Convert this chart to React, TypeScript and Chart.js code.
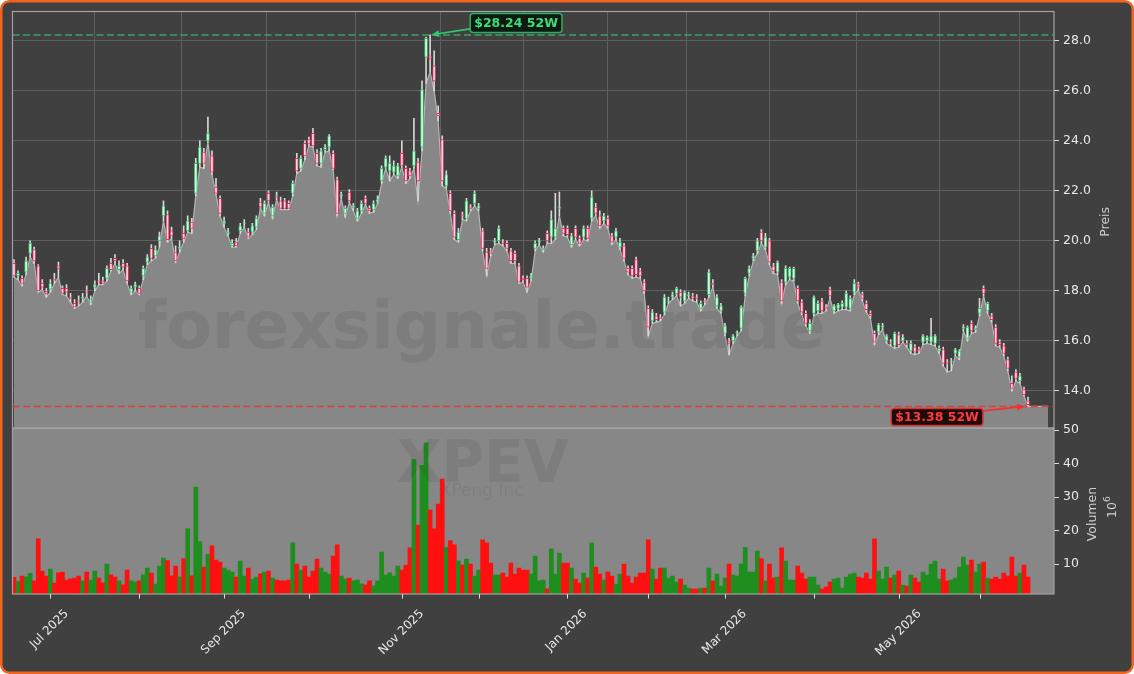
import React, { useEffect, useRef } from "react";
import { Chart, registerables } from "chart.js";

Chart.register(...registerables);

// ---- Data (daily sessions, index 0 = 17 Jun 2025) ----
const opens = [
  19.10, 18.60, 18.50, 18.75, 19.50, 19.65, 19.00, 18.30, 17.97, 18.07,
  18.45, 19.00, 18.10, 18.10, 17.75, 17.50, 17.60, 17.70, 18.00, 17.55,
  18.15, 18.40, 18.40, 18.50, 19.10, 19.30, 18.85, 19.10, 19.00, 17.95,
  18.15, 18.10, 18.60, 19.15, 19.70, 19.40, 20.00, 21.00, 21.05, 20.40,
  19.55, 19.70, 20.30, 20.40, 20.75, 21.90, 23.10, 23.55, 24.00, 23.40,
  22.15, 21.70, 20.70, 20.27, 19.80, 19.95, 20.40, 20.70, 20.35, 20.35,
  20.55, 21.55, 21.10, 21.90, 21.00, 21.80, 21.60, 21.60, 21.50, 21.90,
  23.30, 22.90, 23.90, 24.05, 24.30, 23.50, 23.10, 23.65, 23.75, 23.50,
  22.45, 21.80, 21.10, 21.95, 21.35, 20.90, 21.20, 21.70, 21.30, 21.25,
  21.55, 22.40, 22.95, 22.80, 22.75, 22.60, 23.50, 22.90, 22.80, 23.00,
  23.15, 23.75, 27.35, 27.40, 27.00, 25.10, 24.05, 22.20, 21.90, 21.10,
  20.05, 21.05, 20.90, 21.35, 21.50, 21.30, 20.40, 19.55, 19.60, 19.95,
  20.00, 19.95, 19.90, 19.60, 19.50, 19.00, 18.50, 18.50, 18.50, 19.70,
  19.95, 19.65, 20.30, 20.15, 20.15, 21.30, 20.50, 20.50, 19.85, 20.50,
  20.10, 20.15, 20.50, 20.90, 21.35, 21.00, 20.80, 20.90, 20.20, 20.15,
  19.75, 19.80, 18.90, 18.90, 19.25, 18.80, 18.35, 17.30, 16.80, 17.00,
  16.95, 17.15, 17.55, 17.75, 17.90, 17.95, 17.60, 17.80, 17.80, 17.75,
  17.30, 17.60, 17.85, 18.30, 17.40, 17.20, 16.30, 16.00, 16.00, 16.30,
  16.50, 17.90, 18.70, 19.30, 19.60, 20.35, 19.75, 20.00, 19.00, 18.75,
  18.35, 18.35, 18.55, 18.50, 18.10, 17.55, 17.10, 16.40, 17.10, 17.20,
  17.60, 17.35, 18.05, 17.20, 17.30, 17.35, 17.35, 17.30, 17.95, 18.25,
  17.85, 17.50, 17.10, 16.30, 16.35, 16.55, 16.00, 15.95, 15.80, 16.25,
  16.00, 15.90, 15.60, 15.75, 15.65, 15.95, 16.00, 15.95, 15.90, 15.60,
  15.65, 15.15, 15.15, 15.50, 15.35, 16.50, 16.10, 16.70, 16.45, 17.10,
  18.10, 17.20, 17.00, 16.55, 15.95, 15.80, 15.25, 14.30, 14.75, 14.40,
  14.05, 13.60,
];

const highs = [
  19.25, 18.80, 18.60, 19.35, 20.00, 19.75, 19.05, 18.45, 18.10, 18.45,
  18.70, 19.15, 18.20, 18.25, 17.90, 17.65, 17.80, 17.90, 18.20, 17.80,
  18.40, 18.70, 18.55, 19.00, 19.30, 19.45, 19.20, 19.25, 19.10, 18.20,
  18.35, 18.20, 19.00, 19.45, 19.85, 19.80, 20.35, 21.60, 21.20, 20.55,
  19.80, 20.00, 20.60, 21.00, 20.90, 23.30, 24.00, 23.70, 24.95, 23.60,
  22.50, 21.80, 20.95, 20.50, 20.05, 20.10, 20.70, 20.85, 20.50, 20.70,
  21.00, 21.70, 21.60, 22.00, 21.45, 21.95, 21.75, 21.70, 21.60, 22.40,
  23.50, 23.40, 24.00, 24.15, 24.50, 23.65, 23.70, 23.85, 24.25, 23.60,
  22.55, 21.95, 21.40, 22.05, 21.50, 21.30, 21.60, 21.80, 21.40, 21.60,
  21.80, 23.00, 23.40, 23.40, 23.20, 23.10, 24.00, 23.00, 22.90, 24.90,
  23.30, 26.40, 28.15, 28.24, 27.60, 25.40, 24.20, 22.80, 22.00, 21.20,
  20.50, 21.15, 21.70, 21.45, 22.00, 21.50, 20.50, 19.70, 19.70, 20.10,
  20.60, 20.05, 20.00, 19.70, 19.60, 19.10, 18.60, 18.60, 18.70, 20.00,
  20.10, 19.80, 20.40, 21.20, 21.90, 21.95, 20.60, 20.60, 20.30, 20.60,
  20.20, 20.60, 20.60, 22.00, 21.50, 21.20, 21.10, 21.00, 20.30, 20.50,
  20.10, 19.90, 19.00, 19.00, 19.35, 18.90, 18.45, 17.40, 17.25, 17.10,
  17.05, 17.85, 17.75, 17.95, 18.15, 18.05, 18.00, 17.95, 17.90, 17.85,
  17.60, 17.70, 18.85, 18.45, 17.85, 17.50, 16.70, 16.10, 16.25, 16.40,
  17.40, 18.55, 19.00, 19.50, 20.10, 20.45, 20.30, 20.10, 19.10, 19.20,
  18.45, 19.00, 18.95, 18.95, 18.20, 17.65, 17.20, 16.85, 17.80, 17.60,
  17.70, 17.45, 18.15, 17.45, 17.50, 17.60, 18.00, 17.80, 18.45, 18.35,
  17.95, 17.60, 17.20, 16.40, 16.70, 16.70, 16.25, 16.05, 16.35, 16.35,
  16.25, 16.00, 16.00, 15.85, 15.75, 16.25, 16.20, 16.90, 16.25, 15.80,
  15.75, 15.25, 15.30, 15.70, 15.65, 16.65, 16.60, 16.80, 16.60, 17.70,
  18.20, 17.55, 17.10, 16.65, 16.05, 15.90, 15.35, 14.60, 14.85, 14.70,
  14.15, 13.75,
];

const lows = [
  18.55, 18.45, 18.20, 18.65, 19.35, 19.10, 17.95, 18.05, 17.75, 17.95,
  18.30, 18.55, 17.85, 17.80, 17.55, 17.30, 17.40, 17.55, 17.80, 17.45,
  18.00, 18.25, 18.25, 18.40, 18.80, 19.10, 18.70, 18.85, 18.30, 17.85,
  18.00, 17.85, 18.45, 19.05, 19.20, 19.30, 19.75, 20.80, 19.95, 20.10,
  19.15, 19.55, 19.95, 20.35, 20.30, 21.80, 22.95, 22.90, 23.95, 22.65,
  21.85, 21.00, 20.55, 20.20, 19.75, 19.75, 20.30, 20.55, 20.10, 20.25,
  20.45, 21.30, 21.00, 21.55, 20.90, 21.65, 21.25, 21.25, 21.25, 21.80,
  22.70, 22.80, 23.25, 23.80, 23.75, 23.00, 22.95, 23.55, 23.60, 22.85,
  21.00, 21.70, 20.95, 21.55, 21.20, 20.80, 21.10, 21.45, 21.10, 21.15,
  21.50, 22.30, 22.90, 22.40, 22.65, 22.50, 22.95, 22.30, 22.50, 22.90,
  21.60, 23.60, 26.30, 26.75, 26.00, 24.80, 22.20, 22.10, 21.10, 20.05,
  19.95, 20.85, 20.80, 21.20, 21.40, 21.20, 19.60, 18.60, 19.40, 19.85,
  19.90, 19.80, 19.60, 19.10, 19.10, 18.30, 18.35, 17.95, 18.40, 19.60,
  19.85, 19.55, 19.90, 19.90, 20.05, 21.00, 20.20, 20.15, 19.75, 20.05,
  19.80, 20.05, 20.00, 20.80, 21.00, 20.50, 20.70, 20.50, 19.85, 20.05,
  19.65, 19.20, 18.65, 18.50, 18.55, 18.50, 17.90, 16.20, 16.70, 16.75,
  16.80, 17.05, 17.50, 17.65, 17.80, 17.40, 17.50, 17.70, 17.60, 17.55,
  17.20, 17.45, 17.75, 18.15, 17.30, 17.10, 16.20, 15.45, 15.90, 16.20,
  16.40, 17.80, 18.60, 19.20, 19.50, 19.90, 19.65, 19.05, 18.70, 18.65,
  17.50, 18.25, 18.45, 18.40, 17.50, 17.05, 16.60, 16.30, 17.00, 17.10,
  17.10, 17.20, 17.70, 17.10, 17.20, 17.25, 17.25, 17.20, 17.85, 18.05,
  17.60, 17.15, 16.90, 15.85, 16.25, 16.45, 15.90, 15.80, 15.70, 15.75,
  15.95, 15.75, 15.50, 15.45, 15.50, 15.85, 15.90, 15.85, 15.80, 15.50,
  15.00, 14.75, 14.80, 15.40, 15.25, 16.40, 16.00, 16.30, 16.35, 17.00,
  17.80, 17.10, 16.75, 15.80, 15.75, 15.40, 14.80, 14.00, 14.40, 14.30,
  13.80, 13.38,
];

const closes = [
  18.60, 18.70, 18.30, 19.20, 19.90, 19.20, 18.00, 18.15, 17.88, 18.30,
  18.40, 18.90, 17.90, 17.95, 17.70, 17.35, 17.55, 17.75, 17.95, 17.65,
  18.25, 18.35, 18.30, 18.90, 18.85, 19.20, 19.00, 18.95, 18.40, 18.10,
  18.25, 17.90, 18.90, 19.35, 19.30, 19.65, 20.20, 21.40, 20.05, 20.20,
  19.20, 19.75, 20.10, 20.80, 20.50, 23.10, 23.75, 23.10, 24.30, 22.75,
  21.90, 21.10, 20.80, 20.35, 19.90, 19.80, 20.60, 20.72, 20.15, 20.60,
  20.90, 21.35, 21.50, 21.60, 21.35, 21.75, 21.30, 21.30, 21.30, 22.30,
  22.80, 23.30, 23.40, 23.90, 23.80, 23.10, 23.60, 23.75, 24.20, 22.90,
  21.10, 21.85, 21.30, 21.60, 21.40, 21.20, 21.50, 21.50, 21.20, 21.50,
  21.65, 22.90, 23.30, 23.10, 23.00, 23.00, 23.00, 22.40, 22.60, 23.60,
  22.40, 26.05, 28.10, 27.30, 26.40, 25.00, 22.40, 22.65, 21.20, 20.15,
  20.35, 21.00, 21.60, 21.30, 21.90, 21.40, 19.70, 18.90, 19.50, 20.00,
  20.50, 19.90, 19.70, 19.20, 19.20, 18.35, 18.45, 18.15, 18.60, 19.90,
  20.00, 19.70, 20.00, 20.85, 20.50, 21.35, 20.30, 20.25, 20.20, 20.15,
  19.90, 20.50, 20.10, 21.75, 21.10, 20.60, 21.00, 20.60, 19.95, 20.40,
  19.95, 19.30, 18.75, 18.60, 18.65, 18.60, 18.00, 16.55, 17.15, 16.85,
  16.90, 17.75, 17.60, 17.85, 18.10, 17.75, 17.95, 17.85, 17.70, 17.70,
  17.50, 17.55, 18.75, 18.25, 17.75, 17.40, 16.60, 15.90, 16.20, 16.35,
  17.35, 18.50, 18.90, 19.40, 20.00, 20.00, 20.15, 19.15, 18.80, 19.15,
  17.60, 18.90, 18.90, 18.90, 17.60, 17.15, 16.70, 16.70, 17.75, 17.50,
  17.20, 17.30, 17.80, 17.40, 17.45, 17.50, 17.90, 17.70, 18.30, 18.15,
  17.70, 17.25, 17.00, 15.95, 16.65, 16.60, 16.20, 15.90, 16.30, 15.85,
  16.15, 15.85, 15.90, 15.55, 15.60, 16.20, 16.15, 16.20, 16.20, 15.70,
  15.10, 15.10, 15.20, 15.65, 15.60, 16.55, 16.55, 16.40, 16.50, 17.30,
  17.90, 17.50, 16.85, 15.90, 15.85, 15.50, 14.90, 14.10, 14.50, 14.60,
  13.85, 13.45,
];

// volume in millions of shares
const volumes = [
  6.0, 4.8, 6.4, 6.2, 7.2, 5.0, 17.5, 7.9, 6.4, 8.5,
  4.3, 7.4, 7.6, 5.2, 5.6, 5.8, 6.4, 5.0, 7.6, 5.2,
  7.9, 5.8, 4.4, 10.0, 6.8, 6.1, 5.0, 3.8, 8.2, 5.0,
  4.6, 5.0, 6.8, 8.8, 7.3, 4.0, 9.4, 11.8, 11.0, 6.5,
  9.4, 6.1, 11.6, 20.5, 6.5, 33.0, 16.6, 9.1, 12.9, 15.4,
  11.2, 10.6, 8.8, 8.2, 7.6, 6.1, 10.9, 6.4, 8.8, 5.5,
  6.1, 7.1, 7.6, 7.9, 5.8, 5.2, 5.0, 5.0, 5.2, 16.3,
  10.0, 8.2, 9.4, 6.1, 7.9, 11.5, 8.8, 7.6, 7.0, 12.4,
  15.7, 6.4, 5.5, 5.8, 5.0, 5.2, 4.1, 3.8, 5.0, 3.5,
  5.0, 13.6, 6.7, 7.4, 6.4, 9.4, 8.2, 9.7, 14.8, 41.3,
  21.6, 39.5, 46.2, 26.1, 20.5, 27.9, 35.4, 15.0, 17.0, 15.7,
  10.9, 9.7, 11.5, 10.0, 6.4, 8.2, 17.2, 16.3, 10.3, 6.7,
  6.7, 7.3, 6.1, 10.3, 7.0, 8.8, 8.2, 8.2, 7.0, 12.4,
  5.0, 5.2, 2.6, 14.5, 7.0, 13.3, 10.3, 10.3, 8.8, 5.5,
  4.3, 7.3, 5.8, 16.3, 9.1, 7.0, 5.2, 7.6, 6.4, 4.0,
  7.0, 10.0, 6.4, 4.3, 6.1, 7.3, 7.3, 17.2, 8.5, 5.5,
  8.8, 8.8, 5.8, 6.4, 4.6, 5.5, 3.7, 2.8, 2.5, 2.5,
  2.8, 2.8, 8.8, 5.0, 7.0, 3.4, 5.8, 10.0, 6.7, 6.4,
  10.0, 15.0, 7.6, 7.6, 13.9, 11.6, 5.0, 10.0, 5.8, 6.1,
  14.8, 10.9, 5.2, 5.2, 9.4, 7.3, 5.5, 6.1, 6.1, 3.7,
  2.5, 3.1, 4.6, 5.5, 5.8, 2.8, 6.1, 7.0, 7.3, 6.1,
  5.8, 7.3, 5.5, 17.5, 7.9, 5.5, 9.1, 5.8, 6.7, 7.9,
  3.7, 3.4, 6.7, 5.8, 4.6, 7.6, 6.7, 10.0, 10.9, 5.5,
  8.5, 5.0, 5.2, 5.8, 9.1, 12.1, 9.7, 11.2, 7.6, 10.0,
  10.6, 5.8, 5.5, 6.1, 5.5, 7.3, 6.4, 12.1, 6.4, 7.3,
  9.7, 6.1,
];

// low line carried flat over the last sessions without trading data
const tailLows = [13.38, 13.38, 13.38, 13.38, 13.38];

const tickIndex = [9, 31, 52, 73, 96, 115, 137, 157, 176, 198, 219, 239];
const tickLabels = [
  "Jul 2025", "", "Sep 2025", "", "Nov 2025", "", "Jan 2026", "", "Mar 2026", "", "May 2026", "",
];
const priceTicks = [14, 16, 18, 20, 22, 24, 26, 28];
const volumeTicks = [10, 20, 30, 40, 50];

const ticker = "XPEV";
const company = "XPeng Inc";
const watermark = "forexsignale.trade";
const priceTitle = "Preis";
const volumeTitle = "Volumen";

// ---- Styles ----
const W = 1134;
const H = 674;
const FONT = '"DejaVu Sans", Verdana, sans-serif';
const BG = "#404040";
const BORDER = "#f0641e";
const GRID = "#5f5f5f";
const FRAME = "#a3a3a3";
const AREA_FILL = "#878787";
const AREA_LINE = "#b5b5b5";
const UP_FILL = "#e2f5e6";
const UP_EDGE = "#33c06a";
const DOWN_FILL = "#fbdde6";
const DOWN_EDGE = "#e8305f";
const WICK = "#d6d6d6";
const VOL_UP = "#1e8f1e";
const VOL_DOWN = "#ff1010";
const TEXT = "#e8e8e8";
const TITLE = "#cfcfcf";

function roundRect(ctx: CanvasRenderingContext2D, x: number, y: number, w: number, h: number, r: number) {
  ctx.beginPath();
  ctx.moveTo(x + r, y);
  ctx.arcTo(x + w, y, x + w, y + h, r);
  ctx.arcTo(x + w, y + h, x, y + h, r);
  ctx.arcTo(x, y + h, x, y, r);
  ctx.arcTo(x, y, x + w, y, r);
  ctx.closePath();
}

function drawArrow(ctx: CanvasRenderingContext2D, x1: number, y1: number, x2: number, y2: number, color: string) {
  const ang = Math.atan2(y2 - y1, x2 - x1);
  const L = 8;
  const hw = 3.5;
  ctx.save();
  ctx.setLineDash([]);
  ctx.strokeStyle = color;
  ctx.fillStyle = color;
  ctx.lineWidth = 1.6;
  ctx.beginPath();
  ctx.moveTo(x1, y1);
  ctx.lineTo(x2 - (L - 1) * Math.cos(ang), y2 - (L - 1) * Math.sin(ang));
  ctx.stroke();
  ctx.beginPath();
  ctx.moveTo(x2, y2);
  ctx.lineTo(x2 - L * Math.cos(ang) + hw * Math.sin(ang), y2 - L * Math.sin(ang) - hw * Math.cos(ang));
  ctx.lineTo(x2 - L * Math.cos(ang) - hw * Math.sin(ang), y2 - L * Math.sin(ang) + hw * Math.cos(ang));
  ctx.closePath();
  ctx.fill();
  ctx.restore();
}

function drawLabel(
  ctx: CanvasRenderingContext2D, text: string, cx: number, cy: number,
  fg: string, edge: string, bg: string, h: number
) {
  ctx.save();
  ctx.setLineDash([]);
  ctx.font = `bold 12.5px ${FONT}`;
  const w = ctx.measureText(text).width + 8;
  roundRect(ctx, cx - w / 2, cy - h / 2, w, h, 3);
  ctx.fillStyle = bg;
  ctx.fill();
  ctx.lineWidth = 1.5;
  ctx.strokeStyle = edge;
  ctx.stroke();
  ctx.fillStyle = fg;
  ctx.textAlign = "center";
  ctx.textBaseline = "middle";
  ctx.fillText(text, cx, cy + 0.5);
  ctx.restore();
}

export default function App() {
  const canvasRef = useRef<HTMLCanvasElement | null>(null);

  useEffect(() => {
    document.body.style.margin = "0";
    const canvas = canvasRef.current;
    if (!canvas) return;

    const n = closes.length;
    const idx = Array.from({ length: n }, (_, i) => i);
    const up = idx.map((i) => closes[i] >= opens[i]);
    const areaData = [...lows, ...tailLows].map((v, i) => ({ x: i, y: v }));
    const wickData = idx.map((i) => ({ x: i, y: [lows[i], highs[i]] }));
    const bodyData = idx.map((i) => ({
      x: i,
      y: [Math.min(opens[i], closes[i]), Math.max(opens[i], closes[i])],
    }));
    const volData = idx.map((i) => ({ x: i, y: volumes[i] }));

    let hiIdx = 0;
    let loIdx = 0;
    highs.forEach((h, i) => { if (h > highs[hiIdx]) hiIdx = i; });
    lows.forEach((l, i) => { if (l < lows[loIdx]) loIdx = i; });

    const AREA_INDEX = 1;

    const overlay = {
      id: "overlay",
      beforeDraw(chart: any) {
        const ctx: CanvasRenderingContext2D = chart.ctx;
        ctx.save();
        ctx.fillStyle = "#ffffff";
        ctx.fillRect(0, 0, W, H);
        roundRect(ctx, 1.25, 1.25, W - 2.5, H - 2.5, 8);
        ctx.fillStyle = BG;
        ctx.fill();
        ctx.lineWidth = 2.5;
        ctx.strokeStyle = BORDER;
        ctx.stroke();
        ctx.restore();
      },
      beforeDatasetsDraw(chart: any) {
        const ctx: CanvasRenderingContext2D = chart.ctx;
        const { left, right } = chart.chartArea;
        const yv = chart.scales.yV;
        ctx.save();
        ctx.fillStyle = AREA_FILL;
        ctx.fillRect(left, yv.top, right - left, yv.bottom - yv.top);
        ctx.restore();
      },
      afterDatasetDraw(chart: any, args: any) {
        if (args.index !== AREA_INDEX) return;
        const ctx: CanvasRenderingContext2D = chart.ctx;
        const { left, right } = chart.chartArea;
        const cx = left + 0.4505 * (right - left);
        ctx.save();
        ctx.textAlign = "center";
        ctx.textBaseline = "alphabetic";
        ctx.fillStyle = "rgba(45,45,45,0.11)";
        ctx.font = `bold 66px ${FONT}`;
        ctx.fillText(watermark, cx, 348);
        ctx.font = `bold 58px ${FONT}`;
        ctx.fillText(ticker, cx + 1, 482);
        ctx.fillStyle = "rgba(45,45,45,0.09)";
        ctx.font = `17px ${FONT}`;
        ctx.fillText(company, cx, 496);
        ctx.restore();
      },
      afterDatasetsDraw(chart: any) {
        const ctx: CanvasRenderingContext2D = chart.ctx;
        const { left, right } = chart.chartArea;
        const yP = chart.scales.yP;
        const yV = chart.scales.yV;
        const xs = chart.scales.x;
        ctx.save();
        // panel frames
        ctx.strokeStyle = FRAME;
        ctx.lineWidth = 1.2;
        ctx.strokeRect(left, yP.top, right - left, yP.bottom - yP.top);
        ctx.strokeRect(left, yV.top, right - left, yV.bottom - yV.top);

        // 52W high / low lines
        const yHi = yP.getPixelForValue(highs[hiIdx]);
        const yLo = yP.getPixelForValue(lows[loIdx]);
        ctx.setLineDash([7, 3.5]);
        ctx.lineWidth = 1.5;
        ctx.strokeStyle = "rgba(60,179,113,0.85)";
        ctx.beginPath();
        ctx.moveTo(left, yHi);
        ctx.lineTo(right, yHi);
        ctx.stroke();
        ctx.strokeStyle = "rgba(228,56,56,0.9)";
        ctx.beginPath();
        ctx.moveTo(left, yLo);
        ctx.lineTo(right, yLo);
        ctx.stroke();
        ctx.setLineDash([]);

        const xHi = xs.getPixelForValue(hiIdx);
        const xLo = xs.getPixelForValue(loIdx);
        drawArrow(ctx, xHi + 40, yHi - 6, xHi + 1, yHi, "#34c46e");
        drawLabel(ctx, `$${highs[hiIdx].toFixed(2)} 52W`, xHi + 86, yHi - 12,
          "#3ddc7c", "#2fae62", "#0c1a10", 19);
        drawArrow(ctx, xLo - 45, yLo + 4.5, xLo - 3, yLo, "#ee3333");
        drawLabel(ctx, `$${lows[loIdx].toFixed(2)} 52W`, xLo - 91, yLo + 10.5,
          "#ff3b3b", "#d23434", "#1e0b0b", 17);
        ctx.restore();
      },
      afterDraw(chart: any) {
        const ctx: CanvasRenderingContext2D = chart.ctx;
        const { right, bottom } = chart.chartArea;
        const xs = chart.scales.x;
        const yP = chart.scales.yP;
        const yV = chart.scales.yV;
        ctx.save();
        // x ticks + rotated labels
        ctx.strokeStyle = "#dedede";
        ctx.lineWidth = 1;
        ctx.font = `12px ${FONT}`;
        ctx.fillStyle = TEXT;
        tickIndex.forEach((v, k) => {
          const px = Math.round(xs.getPixelForValue(v)) + 0.5;
          ctx.beginPath();
          ctx.moveTo(px, bottom);
          ctx.lineTo(px, bottom + 4.5);
          ctx.stroke();
          const label = tickLabels[k];
          if (!label) return;
          const w = ctx.measureText(label).width;
          const bb = (w + 11) * Math.SQRT1_2;
          ctx.save();
          ctx.translate(px - 1, bottom + 14 + bb / 2);
          ctx.rotate(-Math.PI / 4);
          ctx.textAlign = "center";
          ctx.textBaseline = "middle";
          ctx.fillText(label, 0, 0);
          ctx.restore();
        });

        // axis titles
        ctx.fillStyle = TITLE;
        ctx.textAlign = "center";
        ctx.textBaseline = "middle";
        ctx.font = `12.5px ${FONT}`;
        ctx.save();
        ctx.translate(right + 52, (yP.top + yP.bottom) / 2 + 2);
        ctx.rotate(-Math.PI / 2);
        ctx.fillText(priceTitle, 0, 0);
        ctx.restore();

        ctx.save();
        ctx.translate(right + 39, (yV.top + yV.bottom) / 2 + 3);
        ctx.rotate(-Math.PI / 2);
        ctx.fillText(volumeTitle, 0, 0);
        ctx.restore();

        ctx.save();
        ctx.translate(right + 58, (yV.top + yV.bottom) / 2 - 4);
        ctx.rotate(-Math.PI / 2);
        ctx.font = `12.5px ${FONT}`;
        const w10 = ctx.measureText("10").width;
        ctx.font = `9px ${FONT}`;
        const w6 = ctx.measureText("6").width;
        const start = -(w10 + w6) / 2;
        ctx.textAlign = "left";
        ctx.font = `12.5px ${FONT}`;
        ctx.fillText("10", start, 1);
        ctx.font = `9px ${FONT}`;
        ctx.fillText("6", start + w10, -4);
        ctx.restore();
        ctx.restore();
      },
    };

    const tickFont = { family: FONT, size: 12.5 };

    const chart = new Chart(canvas, {
      type: "bar",
      data: {
        datasets: [
          {
            type: "bar",
            label: "Volumen",
            data: volData as any,
            yAxisID: "yV",
            backgroundColor: idx.map((i) => (up[i] ? VOL_UP : VOL_DOWN)),
            borderWidth: 0,
            barPercentage: 1,
            categoryPercentage: 1,
            grouped: false,
            order: 5,
          } as any,
          {
            type: "line",
            label: "Tief",
            data: areaData as any,
            yAxisID: "yP",
            borderColor: AREA_LINE,
            borderWidth: 1.2,
            backgroundColor: AREA_FILL,
            fill: "start",
            pointRadius: 0,
            tension: 0,
            order: 4,
          } as any,
          {
            type: "bar",
            label: "Docht",
            data: wickData as any,
            yAxisID: "yP",
            backgroundColor: WICK,
            borderWidth: 0,
            barThickness: 1,
            grouped: false,
            order: 2,
          } as any,
          {
            type: "bar",
            label: "Kerze",
            data: bodyData as any,
            yAxisID: "yP",
            backgroundColor: idx.map((i) => (up[i] ? UP_FILL : DOWN_FILL)),
            borderColor: idx.map((i) => (up[i] ? UP_EDGE : DOWN_EDGE)),
            borderWidth: 1,
            borderSkipped: false,
            barThickness: 3,
            grouped: false,
            order: 1,
          } as any,
        ],
      },
      options: {
        responsive: false,
        animation: false,
        devicePixelRatio: 1,
        events: [],
        layout: { padding: { left: 12.5, top: 11, right: 0, bottom: 0 } },
        plugins: {
          legend: { display: false },
          tooltip: { enabled: false },
        },
        scales: {
          x: {
            type: "linear",
            position: "bottom",
            min: -0.37,
            max: 257.43,
            offset: false,
            grid: { color: GRID, lineWidth: 1, drawTicks: false },
            border: { display: false },
            ticks: { display: false },
            afterBuildTicks: (s: any) => {
              s.ticks = tickIndex.map((v) => ({ value: v }));
            },
            afterFit: (s: any) => {
              s.height = 80;
            },
          },
          yP: {
            type: "linear",
            position: "right",
            stack: "panes",
            stackWeight: 417,
            min: 12.51,
            max: 29.175,
            offset: false,
            grid: { color: GRID, lineWidth: 1, drawTicks: true, tickLength: 5, tickColor: "#d8d8d8" },
            border: { display: false },
            ticks: {
              color: TEXT,
              font: tickFont,
              padding: 4,
              callback: (v: any) => Number(v).toFixed(1),
            },
            afterBuildTicks: (s: any) => {
              s.ticks = priceTicks.map((v) => ({ value: v }));
            },
            afterFit: (s: any) => {
              s.width = 80;
            },
          },
          yV: {
            type: "linear",
            position: "right",
            stack: "panes",
            stackWeight: 166,
            min: 1.04,
            max: 50.6,
            offset: false,
            grid: { drawOnChartArea: false, drawTicks: true, tickLength: 5, tickColor: "#d8d8d8" },
            border: { display: false },
            ticks: {
              color: TEXT,
              font: tickFont,
              padding: 4,
              callback: (v: any) => String(Math.round(Number(v))),
            },
            afterBuildTicks: (s: any) => {
              s.ticks = volumeTicks.map((v) => ({ value: v }));
            },
            afterFit: (s: any) => {
              s.width = 80;
            },
          },
        },
      } as any,
      plugins: [overlay],
    });

    return () => chart.destroy();
  }, []);

  return (
    <div style={{ width: W, height: H }}>
      <canvas ref={canvasRef} width={W} height={H} style={{ display: "block", width: W, height: H }} />
    </div>
  );
}
